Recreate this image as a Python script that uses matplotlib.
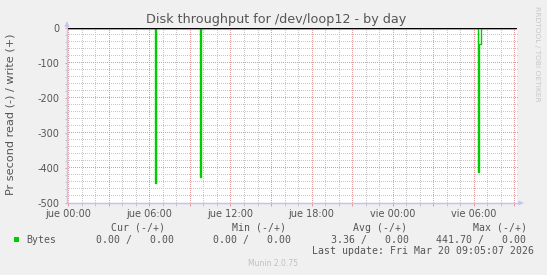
import matplotlib
matplotlib.use("Agg")
import numpy as np
import matplotlib.pyplot as plt
from matplotlib.patches import Polygon, Rectangle

plt.rcParams["axes.unicode_minus"] = False

# ---------------- data (hours relative to Thursday 00:00) ----------------
times = [-0.1, 6.417, 6.5, 9.75, 9.833, 30.333, 30.417, 30.5, 33.08]
read_bytes = [0, 441.7, 0, 427.0, 0, 410.0, 46.0, 0, 0]
write_bytes = [0, 0, 0, 0, 0, 0, 0, 0, 0]

xtick_hours = [0, 6, 12, 18, 24, 30]
xtick_labels = ["jue 00:00", "jue 06:00", "jue 12:00", "jue 18:00", "vie 00:00", "vie 06:00"]
ytick_values = [0, -100, -200, -300, -400, -500]
ytick_labels = ["0", "-100", "-200", "-300", "-400", "-500"]

legend_name = "Bytes"
legend_headers = ["Cur (-/+)", "Min (-/+)", "Avg (-/+)", "Max (-/+)"]
legend_values = ["0.00 /   0.00", "0.00 /   0.00", "3.36 /   0.00", "441.70 /   0.00"]
last_update = "Last update: Fri Mar 20 09:05:07 2026"

title = "Disk throughput for /dev/loop12 - by day"
ylabel = "Pr second read (-) / write (+)"

# ---------------- style ----------------
W, H = 547, 275
DPI = 100
BG = "#f0f0f0"
TXT = "#555555"
GREEN = "#00cc00"
AXC = "#c4c4f4"
MAJ = "#e49a9a"
MIN = "#c8c8c8"


def fx(px):
    return px / W


def fy(py):
    return 1 - py / H


fig = plt.figure(figsize=(W / DPI, H / DPI), dpi=DPI, facecolor=BG)
L, R, T, B = 67, 517, 28, 203
ax = fig.add_axes([fx(L), fy(B), (R - L) / W, (B - T) / H])
ax.set_facecolor("white")

XMIN, XMAX = -0.096, 33.2
ax.set_xlim(XMIN, XMAX)
ax.set_ylim(-500, 0)

# ticks
ax.set_xticks(np.arange(0, 34, 3))
ax.set_xticklabels([xtick_labels[xtick_hours.index(h)] if h in xtick_hours else "" for h in range(0, 34, 3)])
ax.set_xticks([h for h in range(0, 34) if h % 3], minor=True)
ax.set_yticks(ytick_values)
ax.set_yticklabels(ytick_labels)
ax.set_yticks([v for v in range(-500, 1, 20) if v % 100], minor=True)

# dotted grid drawn as single pixels every 2 px
px_x = (XMAX - XMIN) / (R - L)   # data units per pixel along x
px_y = 500 / (B - T)
ydots = np.arange(-500, 0, 2 * px_y)
xdots = np.arange(XMIN, XMAX, 2 * px_x)
for h in range(0, 34):
    c = MAJ if h % 3 == 0 else MIN
    ax.plot(np.full(len(ydots), h), ydots, linestyle="none", marker=",", color=c, zorder=1 if c == MAJ else 0.5)
for v in range(-480, 1, 20):
    c = MAJ if v % 100 == 0 else MIN
    ax.plot(xdots, np.full(len(xdots), v), linestyle="none", marker=",", color=c, zorder=1 if c == MAJ else 0.5)

ax.tick_params(axis="x", which="major", length=2.2, width=0.72, color=MAJ, pad=2.0,
               labelsize=7, labelcolor=TXT)
ax.tick_params(axis="x", which="minor", length=2.2, width=0.72, color=MIN)
ax.tick_params(axis="y", which="major", length=1.5, width=0.72, color=MAJ, pad=3.8,
               labelsize=7, labelcolor=TXT)
ax.tick_params(axis="y", which="minor", length=1.5, width=0.72, color=MIN)

for s in ["top", "right"]:
    ax.spines[s].set_visible(False)
for s in ["left", "bottom"]:
    ax.spines[s].set_color(AXC)
    ax.spines[s].set_linewidth(0.9)

# series
ax.plot(times, [-v for v in read_bytes], drawstyle="steps-post", color=GREEN, lw=1.0, zorder=3)
ax.plot(times, write_bytes, drawstyle="steps-post", color=GREEN, lw=1.0, zorder=3)
ax.axhline(0, color="black", lw=1.0, zorder=4)

# axis arrows
fig.add_artist(Polygon([(fx(64.3), fy(27)), (fx(69.7), fy(27)), (fx(67), fy(21))],
                       closed=True, transform=fig.transFigure, color=AXC, lw=0))
fig.add_artist(plt.Line2D([fx(67), fx(67)], [fy(B), fy(27)], transform=fig.transFigure, color=AXC, lw=0.9))
fig.add_artist(plt.Line2D([fx(L), fx(519)], [fy(B), fy(B)], transform=fig.transFigure, color=AXC, lw=0.9))
fig.add_artist(Polygon([(fx(518.5), fy(200.5)), (fx(518.5), fy(205.5)), (fx(524), fy(203))],
                       closed=True, transform=fig.transFigure, color=AXC, lw=0))

# texts
fig.text(fx(276), fy(23.3), title, ha="center", va="baseline", fontsize=9.2, color=TXT)
fig.text(fx(11), fy(114), ylabel, ha="center", va="center", rotation=90, fontsize=8.1, color=TXT)
fig.text(fx(537.5), fy(53.5), "RRDTOOL / TOBI OETIKER", ha="center", va="center", rotation=270,
         fontsize=5.4, color="#c8c8c8")

mono = "DejaVu Sans Mono"
header_x = [111, 231.7, 352.7, 473]
value_x = [95.7, 213, 331, 435.7]
for hx, htxt in zip(header_x, legend_headers):
    fig.text(fx(hx), fy(228), htxt, ha="left", va="center", family=mono, fontsize=7.1, color=TXT)
fig.add_artist(Rectangle((fx(14), fy(242.3)), 5.3 / W, 5.3 / H, transform=fig.transFigure,
                         color=GREEN, lw=0))
fig.text(fx(26.7), fy(240), legend_name, ha="left", va="center", family=mono, fontsize=7.1, color=TXT)
for vx, vtxt in zip(value_x, legend_values):
    fig.text(fx(vx), fy(240), vtxt, ha="left", va="center", family=mono, fontsize=7.1, color=TXT)
fig.text(fx(311.7), fy(251.5), last_update, ha="left", va="center", family=mono, fontsize=7.1, color=TXT)
fig.text(fx(273), fy(264), "Munin 2.0.75", ha="center", va="center", fontsize=5.5, color="#c0c0c0")

fig.savefig("out.png", dpi=DPI, facecolor=BG)
